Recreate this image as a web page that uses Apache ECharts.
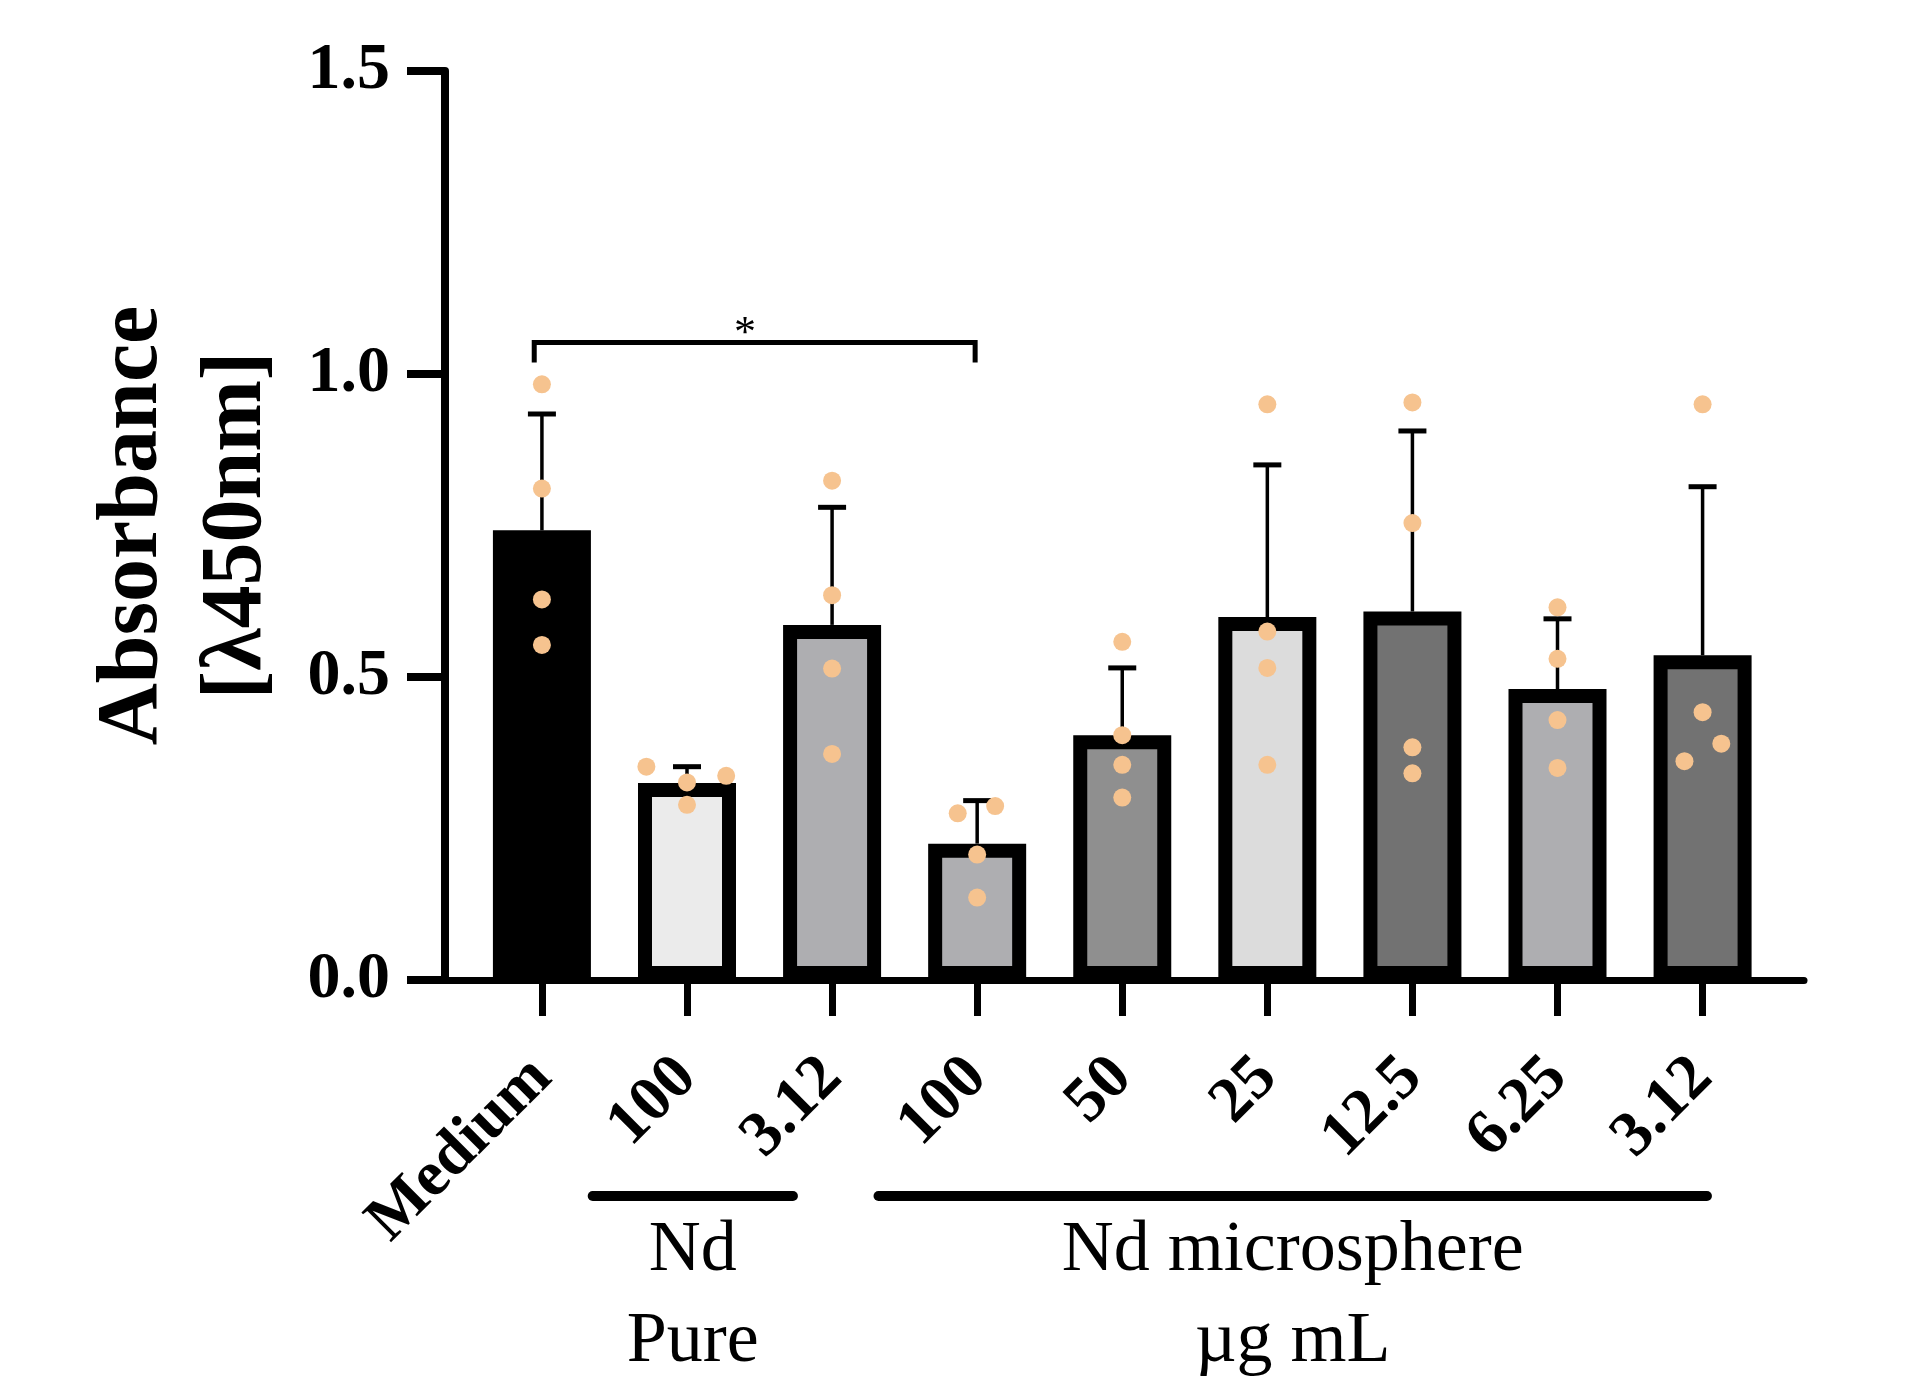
<!DOCTYPE html>
<html>
<head>
<meta charset="utf-8">
<script src="https://cdn.jsdelivr.net/npm/echarts@6.0.0/dist/echarts.min.js"></script>
<style>
html,body{margin:0;padding:0;background:#fff;}
#main{width:1913px;height:1388px;}
</style>
</head>
<body>
<div id="main"></div>
<script>
// groups on the x axis
var categories = ['Medium', '100', '3.12', '100', '50', '25', '12.5', '6.25', '3.12'];
// bar heights (mean) and top of the error bar
var means = [0.742, 0.325, 0.586, 0.225, 0.404, 0.599, 0.608, 0.480, 0.536];
var errTop = [0.934, 0.352, 0.780, 0.296, 0.515, 0.850, 0.906, 0.596, 0.814];
// single replicates per group
var replicates = [
	[0.983, 0.811, 0.628, 0.553],
	[0.352, 0.326, 0.289, 0.337],
	[0.824, 0.635, 0.514, 0.373],
	[0.275, 0.287, 0.207, 0.136],
	[0.558, 0.404, 0.355, 0.301],
	[0.950, 0.575, 0.515, 0.355],
	[0.953, 0.754, 0.384, 0.341],
	[0.615, 0.530, 0.429, 0.350],
	[0.950, 0.442, 0.390, 0.361]
];
var yTicks = [0, 0.5, 1.0, 1.5];
// significance: from group, to group, label
var sigFrom = 0, sigTo = 3, sigLevel = 1.052, sigText = '*';
var groupNames = [['Nd', 'Pure'], ['Nd microsphere', '\u00b5g mL']];

// styling / layout
var barFills = ['#000000', '#ebebeb', '#aeaeb1', '#aeaeb1', '#8f8f8f', '#dcdcdc', '#727272', '#aeaeb1', '#727272'];
var dotJitter = [
	[0, 0, 0, 0],
	[-0.28, 0, 0, 0.27],
	[0, 0, 0, 0],
	[-0.134, 0.124, 0, 0],
	[0, 0, 0, 0],
	[0, 0, 0, 0],
	[0, 0, 0, 0],
	[0, 0, 0, 0],
	[0, 0, 0.129, -0.125]
];
var groupSpans = [[0.35, 1.73], [2.32, 8.03]];
var serif = "'Liberation Serif', 'Times New Roman', serif";

var barData = [];
var errData = [];
var dotData = [];
for (var i = 0; i < categories.length; i++) {
	barData.push({value: [i, means[i]], itemStyle: {color: barFills[i]}});
	errData.push([i, means[i], errTop[i]]);
	for (var j = 0; j < replicates[i].length; j++) {
		dotData.push([i + dotJitter[i][j], replicates[i][j]]);
	}
}
var tickIdx = categories.map(function (c, k) { return k; });

function renderErr(params, api) {
	var x = api.value(0);
	var base = api.coord([x, api.value(1)]);
	var top = api.coord([x, api.value(2)]);
	return {
		type: 'group',
		children: [
			{type: 'line', shape: {x1: base[0], y1: base[1], x2: top[0], y2: top[1]}, style: {stroke: '#000', lineWidth: 3.5}},
			{type: 'line', shape: {x1: top[0] - 14, y1: top[1], x2: top[0] + 14, y2: top[1]}, style: {stroke: '#000', lineWidth: 5}}
		]
	};
}

function renderSig(params, api) {
	var p1 = api.coord([api.value(0), api.value(2)]);
	var p2 = api.coord([api.value(1), api.value(2)]);
	var ps = api.coord([api.value(3), api.value(2)]);
	return {
		type: 'group',
		children: [
			{type: 'polyline', shape: {points: [[p1[0], p1[1] + 20], [p1[0], p1[1]], [p2[0], p2[1]], [p2[0], p2[1] + 20]]},
				style: {stroke: '#000', lineWidth: 5, fill: null}},
			{type: 'text', x: ps[0], y: ps[1] - 8,
				style: {text: sigText, font: '44px ' + serif, fill: '#000', align: 'center', verticalAlign: 'middle'}}
		]
	};
}

var myChart = echarts.init(document.getElementById('main'));
var option = {
	backgroundColor: '#fff',
	animation: false,
	grid: {left: 445, top: 71, width: 1359, bottom: 408, containLabel: false, outerBoundsMode: 'none'},
	xAxis: {
		type: 'value',
		min: -0.668,
		max: 8.699,
		splitLine: {show: false},
		axisLine: {show: true, onZero: false, lineStyle: {color: '#000', width: 7}},
		axisTick: {show: true, length: 36, customValues: tickIdx, lineStyle: {color: '#000', width: 7}},
		axisLabel: {
			show: true,
			customValues: tickIdx,
			rotate: 45,
			margin: 88,
			color: '#000',
			fontFamily: serif,
			fontWeight: 'bold',
			fontSize: 64,
			formatter: function (v) { return categories[Math.round(v)]; }
		}
	},
	yAxis: {
		type: 'value',
		min: yTicks[0],
		max: yTicks[yTicks.length - 1],
		interval: 0.5,
		name: 'Absorbance\n[\u03bb450nm]',
		nameLocation: 'middle',
		nameRotate: 90,
		nameGap: 155,
		nameMoveOverlap: false,
		nameTextStyle: {color: '#000', fontFamily: serif, fontWeight: 'bold', fontSize: 86, lineHeight: 104},
		splitLine: {show: false},
		axisLine: {show: true, onZero: false, lineStyle: {color: '#000', width: 8}},
		axisTick: {show: true, length: 38, lineStyle: {color: '#000', width: 8}},
		axisLabel: {
			margin: 55,
			color: '#000',
			fontFamily: serif,
			fontWeight: 'bold',
			fontSize: 66,
			formatter: function (v) { return v.toFixed(1); }
		}
	},
	series: [
		{
			type: 'bar',
			data: barData,
			barWidth: 98,
			z: 2,
			itemStyle: {borderColor: '#000', borderWidth: 14}
		},
		{
			type: 'custom',
			renderItem: renderErr,
			data: errData,
			encode: {x: 0, y: [1, 2]},
			z: 3
		},
		{
			type: 'custom',
			renderItem: renderSig,
			data: [[sigFrom - 0.053, sigTo - 0.014, sigLevel, 1.40]],
			encode: {x: [0, 1, 3], y: 2},
			z: 3
		},
		{
			type: 'scatter',
			data: dotData,
			symbolSize: 18,
			z: 4,
			itemStyle: {color: '#f6c38f', opacity: 1}
		}
	]
};
myChart.setOption(option);

// group lines and names under the axis
var graphics = [];
for (var g = 0; g < groupSpans.length; g++) {
	var xa = myChart.convertToPixel({xAxisIndex: 0}, groupSpans[g][0]);
	var xb = myChart.convertToPixel({xAxisIndex: 0}, groupSpans[g][1]);
	var xm = (xa + xb) / 2;
	graphics.push({type: 'line', shape: {x1: xa, y1: 1196, x2: xb, y2: 1196}, style: {stroke: '#000', lineWidth: 10, lineCap: 'round'}});
	for (var l = 0; l < groupNames[g].length; l++) {
		graphics.push({type: 'text', x: xm, y: 1251 + l * 91,
			style: {text: groupNames[g][l], font: '72px ' + serif, fill: '#000', align: 'center', verticalAlign: 'middle'}});
	}
}
myChart.setOption({graphic: graphics});
</script>
</body>
</html>
